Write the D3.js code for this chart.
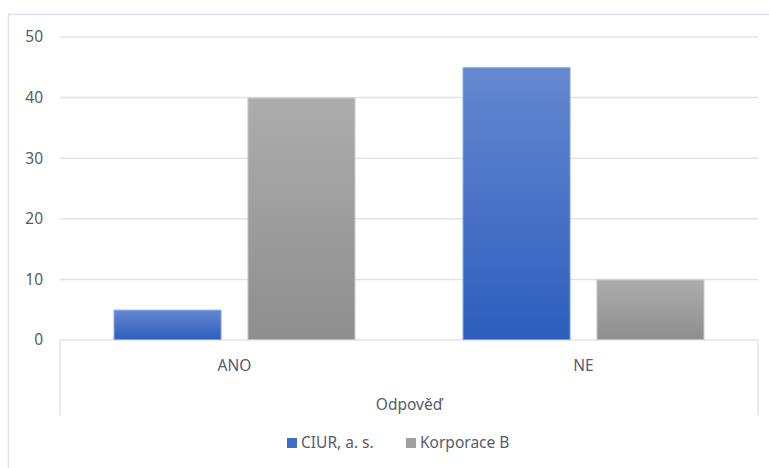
<!DOCTYPE html>
<html>
<head>
<meta charset="utf-8">
<script src="https://cdn.jsdelivr.net/npm/d3@7"></script>
<style>
  html, body { margin: 0; padding: 0; background: #fff; }
  svg { display: block; }
  text { font-family: "Noto Sans", "Open Sans", sans-serif; fill: #555c69; }
</style>
</head>
<body>
<svg id="chart" width="769" height="468"></svg>
<script>
// Data
const categories = ["ANO", "NE"];
const seriesNames = ["CIUR, a. s.", "Korporace B"];
const ciurValues = [5, 45];
const korporaceValues = [40, 10];
const yTicks = [0, 10, 20, 30, 40, 50];
const axisTitle = "Odpověď";

const svg = d3.select("#chart");
const W = 769, H = 468;
const plot = { left: 60, right: 758, top: 37, bottom: 340 };

// Gradients for the two series
const defs = svg.append("defs");
const grads = [
  { id: "gBlue", top: "#6588d0", bottom: "#2d5ebd" },
  { id: "gGray", top: "#adadad", bottom: "#8e8e8e" }
];
grads.forEach(g => {
  const lg = defs.append("linearGradient").attr("id", g.id)
    .attr("x1", 0).attr("y1", 0).attr("x2", 0).attr("y2", 1);
  lg.append("stop").attr("offset", "0%").attr("stop-color", g.top);
  lg.append("stop").attr("offset", "100%").attr("stop-color", g.bottom);
});
const fills = ["url(#gBlue)", "url(#gGray)"];
const strokes = ["#7d9ee0", "#c2c2c2"];
const legendColors = ["#3f6cc6", "#a0a0a0"];

// Outer frame
svg.append("rect")
  .attr("x", 8.5).attr("y", 14.5).attr("width", W + 10).attr("height", H + 10)
  .attr("fill", "none").attr("stroke", "#dfe3e9").attr("stroke-width", 1.5);

const y = d3.scaleLinear().domain([0, 50]).range([plot.bottom, plot.top]);
const x0 = d3.scaleBand().domain(categories).range([plot.left, plot.right]).paddingInner(0).paddingOuter(0);
const x1 = d3.scaleBand().domain(seriesNames).range([0, x0.bandwidth()]).paddingInner(0.194).paddingOuter(0.4);

// Gridlines
svg.append("g").selectAll("line").data(yTicks).join("line")
  .attr("x1", plot.left).attr("x2", plot.right)
  .attr("y1", d => y(d)).attr("y2", d => y(d))
  .attr("stroke", "#e0e4ea").attr("stroke-width", 1.5);

// Y tick labels
svg.append("g").selectAll("text").data(yTicks).join("text")
  .attr("x", 43).attr("y", d => y(d)).attr("dy", "0.35em")
  .attr("text-anchor", "end").attr("font-size", 15.5)
  .text(d => d);

// Category boundary lines below the axis
svg.append("g").selectAll("line").data([plot.left, plot.right]).join("line")
  .attr("x1", d => d).attr("x2", d => d)
  .attr("y1", plot.bottom).attr("y2", 415)
  .attr("stroke", "#e0e4ea").attr("stroke-width", 1.5);

// Bars
const rows = categories.map((c, i) => ({ cat: c, vals: [ciurValues[i], korporaceValues[i]] }));
const groups = svg.append("g").selectAll("g").data(rows).join("g")
  .attr("transform", d => `translate(${x0(d.cat)},0)`);
groups.selectAll("rect").data(d => d.vals.map((v, j) => ({ v, j }))).join("rect")
  .attr("x", d => x1(seriesNames[d.j]) + 0.5)
  .attr("width", x1.bandwidth() - 1)
  .attr("y", d => y(d.v) + 0.5)
  .attr("height", d => y(0) - y(d.v) - 1)
  .attr("fill", d => fills[d.j])
  .attr("stroke", d => strokes[d.j]).attr("stroke-width", 1);

// Category labels
svg.append("g").selectAll("text").data(categories).join("text")
  .attr("x", d => x0(d) + x0.bandwidth() / 2).attr("y", 366).attr("dy", "0.35em")
  .attr("text-anchor", "middle").attr("font-size", 15.5)
  .text(d => d);

// Axis title
svg.append("text")
  .attr("x", (plot.left + plot.right) / 2).attr("y", 405).attr("dy", "0.35em")
  .attr("text-anchor", "middle").attr("font-size", 15.5)
  .text(axisTitle);

// Legend
const legendX = [287, 406];
const lg = svg.append("g").selectAll("g").data(seriesNames).join("g")
  .attr("transform", (d, i) => `translate(${legendX[i]},443)`);
lg.append("rect").attr("x", 0).attr("y", -5).attr("width", 10).attr("height", 10)
  .attr("fill", (d, i) => legendColors[i]);
lg.append("text").attr("x", 14).attr("y", 0).attr("dy", "0.35em")
  .attr("font-size", 15.5).text(d => d);
</script>
</body>
</html>
